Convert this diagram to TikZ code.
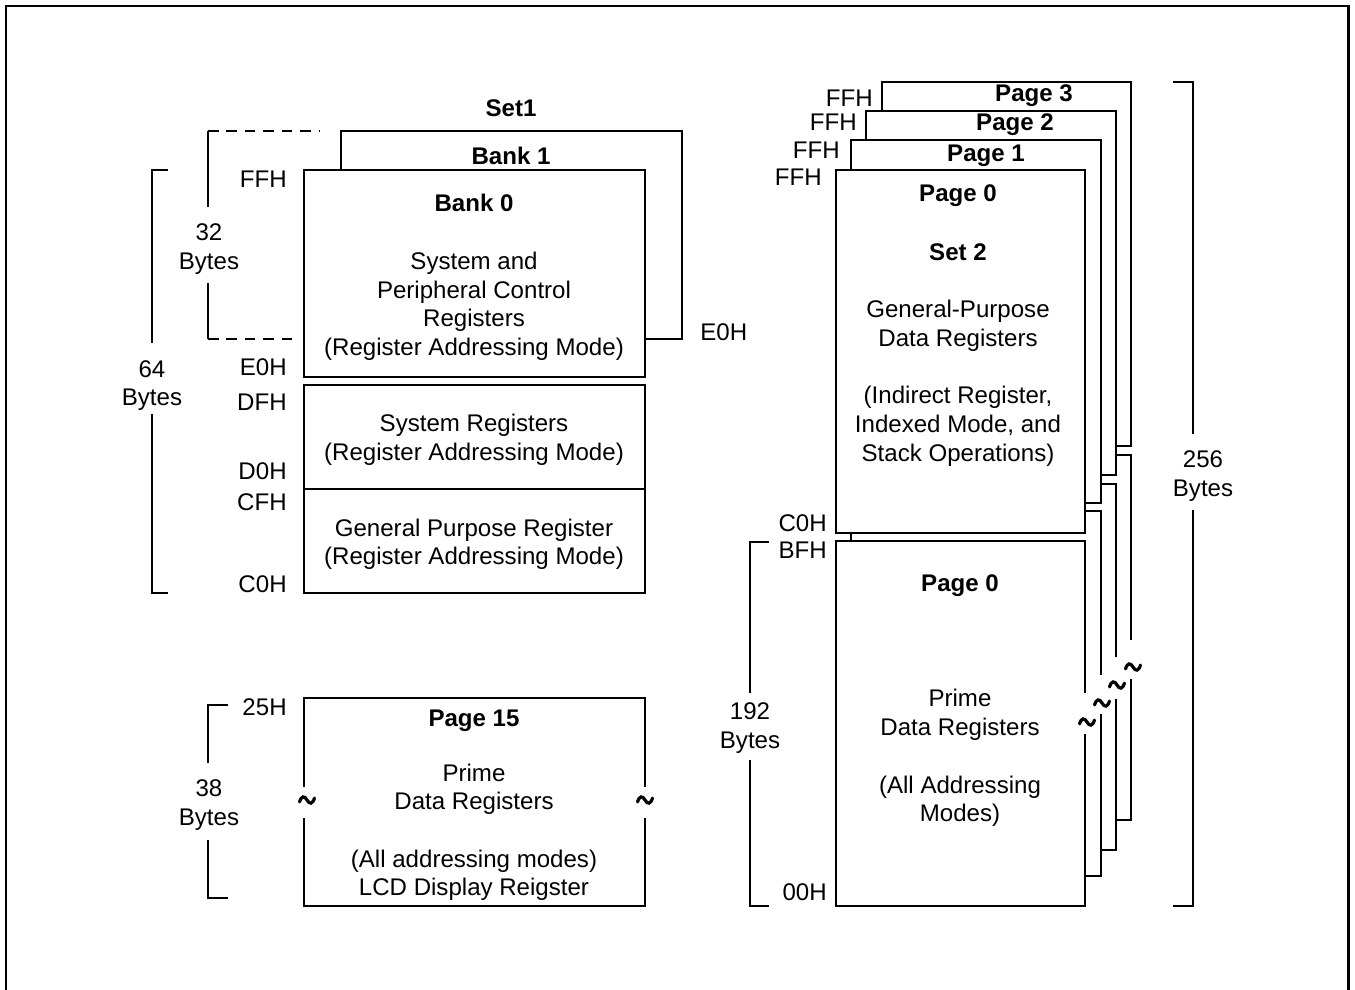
\documentclass[tikz,border=0pt]{standalone}
\usepackage{fontspec}
\setmainfont{Liberation Sans}
\tikzset{
  frame/.style={line width=1.7pt},
  wall/.style={line width=1.1pt, line join=miter},
  hint/.style={line width=1.1pt, dash pattern=on 6pt off 4.5pt},
  txt/.style={anchor=base, inner sep=0pt, font=\fontsize{13.7pt}{16.5pt}\selectfont},
  ttl/.style={txt, font=\fontsize{13.7pt}{16.5pt}\selectfont\bfseries},
  addr/.style={txt, anchor=base east},
  addrw/.style={txt, anchor=base west},
  tld/.pic={\draw[line width=1.8pt, line cap=round]
      (-7.5,2) .. controls (-5.5,-4.5) and (-2.5,-4.5) .. (0,0)
             .. controls (2.5,4.5) and (5.5,4.5) .. (7.5,-2);}
}
\begin{document}
\begin{tikzpicture}[x=0.02cm, y=-0.02cm]
\useasboundingbox (0,0) rectangle (1355,990);

% outer frame (open at the bottom)
\draw[frame] (6,992) -- (6,6) -- (1348,6) -- (1348,992);

% ---------------- Set 1: banks ----------------
\draw[wall] (341,170) -- (341,131) -- (682,131) -- (682,339) -- (645,339);
\draw[wall] (304,170) rectangle (645,377);
\draw[wall] (304,385) rectangle (645,489);
\draw[wall] (304,489) rectangle (645,593);

\node[ttl] (set1)  at (511,116.5) {Set1};
\node[ttl] (bank1) at (511,164.5) {Bank 1};
\node[ttl] (bank0) at (474,211.5) {Bank 0};
\node[txt] (b0a) at (474,269.5) {System and};
\node[txt] (b0b) at (474,298.5) {Peripheral Control};
\node[txt] (b0c) at (474,326.5) {Registers};
\node[txt] (b0d) at (474,355.5) {(Register Addressing Mode)};
\node[txt] (sra) at (474,431.5) {System Registers};
\node[txt] (srb) at (474,460.5) {(Register Addressing Mode)};
\node[txt] (gpa) at (474,536.5) {General Purpose Register};
\node[txt] (gpb) at (474,564.5) {(Register Addressing Mode)};

\node[addr] (aFF) at (287,187.5) {FFH};
\node[addr] (aE0) at (287,375.5) {E0H};
\node[addr] (aDF) at (287,410.5) {DFH};
\node[addr] (aD0) at (287,479.5) {D0H};
\node[addr] (aCF) at (287,510.5) {CFH};
\node[addr] (aC0) at (287,592.5) {C0H};
\node[addrw] (bE0) at (700,340.5) {E0H};

% 32-byte span (dashed guides)
\draw[hint] (208,131) -- (320,131);
\draw[hint] (208,339) -- (293,339);
\draw[wall] (208,131) -- (208,207);
\draw[wall] (208,283) -- (208,339);
\node[txt] (n32a) at (209,240.5) {32};
\node[txt] (n32b) at (209,269.5) {Bytes};

% 64-byte span
\draw[wall] (168,170) -- (152,170) -- (152,343);
\draw[wall] (152,414) -- (152,593) -- (168,593);
\node[txt] (n64a) at (152,377.5) {64};
\node[txt] (n64b) at (152,405.5) {Bytes};

% ---------------- Page 15 ----------------
\draw[wall] (304,787) -- (304,698) -- (645,698) -- (645,787);
\draw[wall] (304,818) -- (304,906) -- (645,906) -- (645,818);
\pic at (307,800) {tld};
\pic at (645,800) {tld};
\node[ttl] (p15)  at (474,726.5) {Page 15};
\node[txt] (p15a) at (474,781) {Prime};
\node[txt] (p15b) at (474,809.5) {Data Registers};
\node[txt] (p15c) at (474,867.5) {(All addressing modes)};
\node[txt] (p15d) at (474,895.5) {LCD Display Reigster};
\node[addr] (a25) at (287,715) {25H};

% 38-byte span
\draw[wall] (228,705) -- (208,705) -- (208,763);
\draw[wall] (208,840) -- (208,898) -- (228,898);
\node[txt] (n38a) at (209,796.5) {38};
\node[txt] (n38b) at (209,825) {Bytes};

% ---------------- Set 2: stacked pages ----------------
% upper halves
\draw[wall] (882,111) -- (882,82) -- (1131,82) -- (1131,446) -- (1116,446);
\draw[wall] (866,140) -- (866,111) -- (1116,111) -- (1116,475) -- (1101,475);
\draw[wall] (851,170) -- (851,140) -- (1101,140) -- (1101,503) -- (1085,503);
\draw[wall] (836,170) rectangle (1085,533);
\draw[wall] (851,533) -- (851,541);

% lower halves
\draw[wall] (1085,693) -- (1085,541) -- (836,541) -- (836,906) -- (1085,906) -- (1085,734);
\draw[wall] (1085,511) -- (1101,511) -- (1101,675);
\draw[wall] (1101,714) -- (1101,876) -- (1085,876);
\draw[wall] (1101,484) -- (1116,484) -- (1116,657);
\draw[wall] (1116,699) -- (1116,850) -- (1101,850);
\draw[wall] (1116,455) -- (1131,455) -- (1131,640);
\draw[wall] (1131,679) -- (1131,820) -- (1116,820);
\pic at (1087,722) {tld};
\pic at (1102,703) {tld};
\pic at (1117,685) {tld};
\pic at (1133,667) {tld};

\node[ttl] (pg3) at (1034,101.5) {Page 3};
\node[ttl] (pg2) at (1015,130.5) {Page 2};
\node[ttl] (pg1) at (986,161.5) {Page 1};
\node[ttl] (pg0) at (958,201.5) {Page 0};
\node[ttl] (set2) at (958,260.5) {Set 2};
\node[txt] (s2a) at (958,317.5) {General-Purpose};
\node[txt] (s2b) at (958,346.5) {Data Registers};
\node[txt] (s2c) at (958,403.5) {(Indirect Register,};
\node[txt] (s2d) at (958,432.5) {Indexed Mode, and};
\node[txt] (s2e) at (958,461.5) {Stack Operations)};

\node[ttl] (pl0) at (960,591.5) {Page 0};
\node[txt] (pla) at (960,706.5) {Prime};
\node[txt] (plb) at (960,735.5) {Data Registers};
\node[txt] (plc) at (960,793.5) {(All Addressing};
\node[txt] (pld) at (960,821.5) {Modes)};

\node[addr] (f3) at (873,106.5) {FFH};
\node[addr] (f2) at (857,130.5) {FFH};
\node[addr] (f1) at (840,158.5) {FFH};
\node[addr] (f0) at (822,185.5) {FFH};
\node[addr] (rC0) at (827,531.5) {C0H};
\node[addr] (rBF) at (827,558.5) {BFH};
\node[addr] (r00) at (827,900.5) {00H};

% 192-byte span
\draw[wall] (769,542) -- (750,542) -- (750,693);
\draw[wall] (750,760) -- (750,906) -- (769,906);
\node[txt] (n192a) at (750,719.5) {192};
\node[txt] (n192b) at (750,748.5) {Bytes};

% 256-byte span
\draw[wall] (1173,82) -- (1193,82) -- (1193,434);
\draw[wall] (1193,510) -- (1193,906) -- (1173,906);
\node[txt] (n256a) at (1203,467.5) {256};
\node[txt] (n256b) at (1203,496.5) {Bytes};
\end{tikzpicture}
\end{document}
